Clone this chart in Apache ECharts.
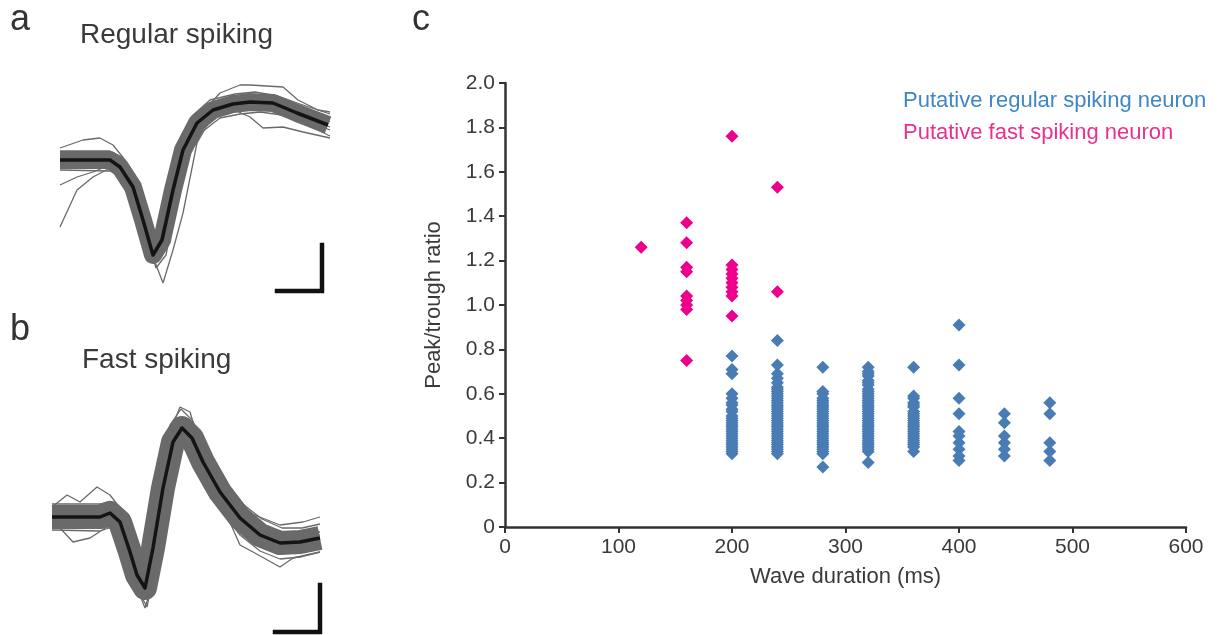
<!DOCTYPE html>
<html>
<head>
<meta charset="utf-8">
<title>Spike waveforms and peak/trough ratio</title>
<script src="https://cdn.jsdelivr.net/npm/echarts@6/dist/echarts.min.js"></script>
<style>
  html, body { margin: 0; padding: 0; background: #fff; }
  #chartCon { width: 1230px; height: 635px; }
</style>
</head>
<body>
<div id="chartCon"></div>
<script>
// ---- panel c : peak/trough ratio vs wave duration ----
const rsDurations = [200, 240, 280, 320, 360, 400, 440, 480];
const rsRatios = [
  [0.77, 0.71, 0.69, 0.60, 0.58, 0.56, 0.55, 0.53, 0.52, 0.50, 0.49, 0.48, 0.47, 0.46, 0.45, 0.44, 0.43, 0.42, 0.41, 0.40, 0.39, 0.38, 0.37, 0.36, 0.35, 0.34, 0.33],
  [0.84, 0.73, 0.69, 0.67, 0.65, 0.63, 0.62, 0.61, 0.60, 0.59, 0.58, 0.57, 0.56, 0.55, 0.54, 0.53, 0.52, 0.51, 0.50, 0.49, 0.48, 0.47, 0.46, 0.45, 0.44, 0.43, 0.42, 0.41, 0.40, 0.39, 0.38, 0.37, 0.36, 0.35, 0.34, 0.33],
  [0.72, 0.61, 0.60, 0.58, 0.57, 0.56, 0.55, 0.54, 0.53, 0.52, 0.51, 0.50, 0.49, 0.48, 0.47, 0.46, 0.45, 0.44, 0.43, 0.42, 0.41, 0.40, 0.39, 0.38, 0.37, 0.36, 0.35, 0.34, 0.33, 0.27],
  [0.72, 0.70, 0.69, 0.68, 0.66, 0.65, 0.64, 0.62, 0.61, 0.60, 0.59, 0.58, 0.57, 0.56, 0.55, 0.54, 0.53, 0.52, 0.51, 0.50, 0.49, 0.48, 0.47, 0.46, 0.45, 0.44, 0.43, 0.42, 0.41, 0.40, 0.39, 0.38, 0.37, 0.36, 0.35, 0.34, 0.29],
  [0.72, 0.59, 0.58, 0.56, 0.55, 0.54, 0.52, 0.51, 0.50, 0.49, 0.48, 0.47, 0.46, 0.45, 0.44, 0.43, 0.42, 0.41, 0.40, 0.39, 0.38, 0.37, 0.36, 0.34],
  [0.91, 0.73, 0.58, 0.51, 0.43, 0.41, 0.38, 0.35, 0.32, 0.30],
  [0.51, 0.47, 0.41, 0.38, 0.35, 0.32],
  [0.56, 0.51, 0.38, 0.34, 0.30]
];
const fsDurations = [120, 160, 200, 240];
const fsRatios = [
  [1.26],
  [1.37, 1.28, 1.17, 1.15, 1.04, 1.02, 1.00, 0.98, 0.75],
  [1.76, 1.18, 1.16, 1.14, 1.12, 1.10, 1.08, 1.06, 1.04, 0.95],
  [1.53, 1.06]
];
const xTicks = [0, 100, 200, 300, 400, 500, 600];
const yTicks = [0, 0.2, 0.4, 0.6, 0.8, 1.0, 1.2, 1.4, 1.6, 1.8, 2.0];

// ---- panel a : regular spiking waveforms [time, amplitude] ----
const rsMean = [[10, 0], [60, 0], [70, -7], [83, -27], [93, -60], [103, -95], [112, -80], [123, -30], [133, 10], [147, 37], [163, 50], [183, 56], [200, 58], [223, 57], [247, 47], [278, 35]];
const rsTraces = [
  [[10, 9], [60, 9], [72, 3], [82, -17], [92, -50], [101, -88], [108, -80], [118, -30], [128, 14], [142, 44], [160, 60], [185, 66], [205, 68], [228, 64], [250, 56], [280, 46]],
  [[10, -10], [60, -11], [72, -18], [86, -40], [96, -75], [106, -108], [116, -95], [127, -40], [138, 5], [152, 28], [170, 42], [190, 46], [210, 48], [232, 45], [255, 36], [280, 24]],
  [[10, -67], [27, -30], [43, -17], [60, -8], [75, -15], [90, -45], [102, -90], [112, -85], [125, -30], [140, 20], [165, 48], [200, 57], [240, 50], [280, 40]],
  [[10, -25], [27, -17], [43, -12], [60, -5], [80, -25], [93, -62], [104, -98], [114, -75], [126, -22], [145, 33], [170, 50], [210, 55], [250, 42], [280, 30]],
  [[10, 12], [33, 20], [50, 22], [63, 15], [75, 0], [85, -25], [95, -62], [103, -100], [110, -85], [121, -35], [135, 15], [160, 48], [200, 60], [240, 52], [280, 38]],
  [[10, 5], [50, 4], [70, -3], [90, -50], [97, -75], [105, -102], [113, -123], [123, -90], [133, -53], [147, 17], [163, 45], [200, 55], [250, 44], [280, 33]],
  [[10, -4], [60, -3], [80, -22], [100, -88], [108, -90], [120, -40], [135, 14], [150, 45], [170, 67], [190, 75], [200, 75], [233, 73], [248, 60], [268, 50], [280, 48]],
  [[10, 3], [60, 2], [85, -30], [103, -93], [112, -78], [130, -5], [150, 38], [180, 52], [200, 43], [213, 32], [233, 33], [253, 28], [280, 22]]
];
const rsScaleBar = [[227, -131], [272, -131], [272, -85]];

// ---- panel b : fast spiking waveforms [time, amplitude] ----
const fsMean = [[12, 0], [60, 0], [70, 4], [80, -5], [90, -35], [97, -58], [105, -71], [113, -31], [123, 29], [133, 75], [142, 89], [152, 79], [163, 55], [180, 25], [200, -1], [220, -18], [240, -26], [260, -25], [280, -21]];
const fsTraces = [
  [[12, 13], [60, 13], [72, 15], [82, 5], [90, -22], [97, -45], [104, -58], [110, -20], [120, 40], [130, 92], [141, 108], [152, 97], [165, 70], [182, 40], [200, 15], [222, -2], [242, -11], [262, -11], [280, -7]],
  [[12, -13], [60, -14], [72, -10], [82, -21], [93, -52], [100, -77], [107, -90], [116, -45], [126, 15], [136, 58], [143, 70], [152, 62], [163, 38], [180, 8], [200, -18], [220, -34], [240, -42], [260, -40], [280, -35]],
  [[12, 10], [27, 22], [40, 15], [57, 30], [70, 22], [80, 9], [90, -23], [98, -55], [106, -68], [114, -28], [124, 32], [134, 78], [143, 88], [153, 76], [165, 50], [182, 22], [200, -2], [240, -24], [280, -18]],
  [[12, -8], [20, -11], [33, -25], [50, -21], [67, -10], [80, -8], [95, -53], [103, -75], [111, -40], [121, 20], [131, 68], [141, 84], [152, 70], [170, 38], [200, -8], [240, -30], [280, -25]],
  [[12, 2], [60, 2], [80, -3], [95, -45], [105, -70], [115, -25], [125, 35], [140, 85], [155, 70], [180, 17], [200, -28], [213, -35], [240, -50], [253, -41], [280, -35]],
  [[12, -3], [60, -2], [80, -8], [93, -50], [104, -66], [113, -28], [123, 30], [140, 86], [150, 82], [170, 47], [187, 22], [207, 5], [240, -8], [263, -5], [280, 0]],
  [[12, 6], [60, 5], [82, -8], [95, -50], [104, -64], [112, -20], [120, 47], [127, 77], [140, 110], [150, 105], [160, 72], [170, 42], [200, 2], [240, -22], [280, -15]],
  [[12, -5], [60, -4], [80, -12], [90, -43], [97, -71], [105, -91], [113, -65], [120, -13], [130, 60], [142, 92], [155, 70], [180, 20], [220, -20], [280, -28]]
];
const fsScaleBar = [[235, -115], [280, -115], [280, -68]];

const rsColor = '#4a7cb4';
const fsColor = '#ec008c';
const fontFamily = '"Liberation Sans", Arial, Helvetica, sans-serif';

function pairs(durations, ratios) {
  let out = [];
  durations.forEach(function (d, i) {
    ratios[i].forEach(function (r) { out.push([d, r]); });
  });
  return out;
}

function waveSeries(mean, traces, bar, axisIdx, bandWidth) {
  let s = [];
  // dense bundle of traces drawn as a wide grey band
  s.push({
    type: 'line', xAxisIndex: axisIdx, yAxisIndex: axisIdx, data: mean,
    showSymbol: false, silent: true,
    lineStyle: { color: '#6a6a6a', width: bandWidth, join: 'round' }, z: 2
  });
  traces.forEach(function (t) {
    s.push({
      type: 'line', xAxisIndex: axisIdx, yAxisIndex: axisIdx, data: t,
      showSymbol: false, silent: true,
      lineStyle: { color: '#6a6a6a', width: 1.3 }, z: 3
    });
  });
  s.push({
    type: 'line', xAxisIndex: axisIdx, yAxisIndex: axisIdx, data: mean,
    showSymbol: false, silent: true,
    lineStyle: { color: '#141414', width: 3.5, join: 'round' }, z: 4
  });
  // scale bar
  s.push({
    type: 'line', xAxisIndex: axisIdx, yAxisIndex: axisIdx, data: bar,
    showSymbol: false, silent: true,
    lineStyle: { color: '#111', width: 4.5, cap: 'square', join: 'miter' }, z: 5
  });
  return s;
}

let chart = echarts.init(document.getElementById('chartCon'), null, { renderer: 'canvas' });

let hidden = { show: false };
let series = [];
series = series.concat(waveSeries(rsMean, rsTraces, rsScaleBar, 0, 18));
series = series.concat(waveSeries(fsMean, fsTraces, fsScaleBar, 1, 24));
series.push({
  name: 'Putative regular spiking neuron',
  type: 'scatter', xAxisIndex: 2, yAxisIndex: 2,
  symbol: 'diamond', symbolSize: 13,
  itemStyle: { color: rsColor, opacity: 1 },
  data: pairs(rsDurations, rsRatios), z: 5
});
series.push({
  name: 'Putative fast spiking neuron',
  type: 'scatter', xAxisIndex: 2, yAxisIndex: 2,
  symbol: 'diamond', symbolSize: 13,
  itemStyle: { color: fsColor, opacity: 1 },
  data: pairs(fsDurations, fsRatios), z: 5
});

chart.setOption({
  animation: false,
  backgroundColor: '#fff',
  textStyle: { fontFamily: fontFamily },
  grid: [
    { left: 50, top: 80, width: 290, height: 215 },
    { left: 40, top: 395, width: 290, height: 240 },
    { left: 505, top: 83, width: 681, height: 444 }
  ],
  xAxis: [
    { type: 'value', gridIndex: 0, min: 0, max: 290, show: false },
    { type: 'value', gridIndex: 1, min: 0, max: 290, show: false },
    {
      type: 'value', gridIndex: 2, min: xTicks[0], max: xTicks[xTicks.length - 1], interval: 100,
      name: 'Wave duration (ms)', nameLocation: 'middle', nameGap: 39,
      nameTextStyle: { fontSize: 22, color: '#3a3a3a', fontFamily: fontFamily },
      axisLine: { lineStyle: { color: '#333', width: 2.5 } },
      axisTick: { inside: false, length: 6, lineStyle: { color: '#333', width: 2 } },
      axisLabel: { fontSize: 21, color: '#3a3a3a', margin: 10, fontFamily: fontFamily },
      splitLine: hidden
    }
  ],
  yAxis: [
    { type: 'value', gridIndex: 0, min: -135, max: 80, show: false },
    { type: 'value', gridIndex: 1, min: -118, max: 122, show: false },
    {
      type: 'value', gridIndex: 2, min: yTicks[0], max: yTicks[yTicks.length - 1], interval: 0.2,
      name: 'Peak/trough ratio', nameLocation: 'middle', nameGap: 60, nameRotate: 90,
      nameTextStyle: { fontSize: 22, color: '#3a3a3a', fontFamily: fontFamily },
      axisLine: { show: true, lineStyle: { color: '#333', width: 2.5 } },
      axisTick: { show: true, inside: false, length: 6, lineStyle: { color: '#333', width: 2 } },
      axisLabel: {
        fontSize: 21, color: '#3a3a3a', margin: 10, fontFamily: fontFamily,
        formatter: function (v) { return v === 0 ? '0' : v.toFixed(1); }
      },
      splitLine: hidden
    }
  ],
  legend: {
    orient: 'vertical', left: 893, top: 85,
    itemWidth: 0, itemHeight: 0, itemGap: 10,
    selectedMode: false,
    textStyle: { fontSize: 22, lineHeight: 22, fontFamily: fontFamily },
    data: [
      { name: 'Putative regular spiking neuron', icon: 'rect', textStyle: { color: '#3f86c8' } },
      { name: 'Putative fast spiking neuron', icon: 'rect', textStyle: { color: '#e8318f' } }
    ]
  },
  graphic: [
    { type: 'text', left: 10, top: 2, style: { text: 'a', font: '36px ' + fontFamily, fill: '#333' } },
    { type: 'text', left: 10, top: 312, style: { text: 'b', font: '36px ' + fontFamily, fill: '#333' } },
    { type: 'text', left: 412, top: 2, style: { text: 'c', font: '36px ' + fontFamily, fill: '#333' } },
    { type: 'text', left: 80, top: 21, style: { text: 'Regular spiking', font: '28px ' + fontFamily, fill: '#3a3a3a' } },
    { type: 'text', left: 82, top: 346, style: { text: 'Fast spiking', font: '28px ' + fontFamily, fill: '#3a3a3a' } }
  ],
  series: series
});
</script>
</body>
</html>
